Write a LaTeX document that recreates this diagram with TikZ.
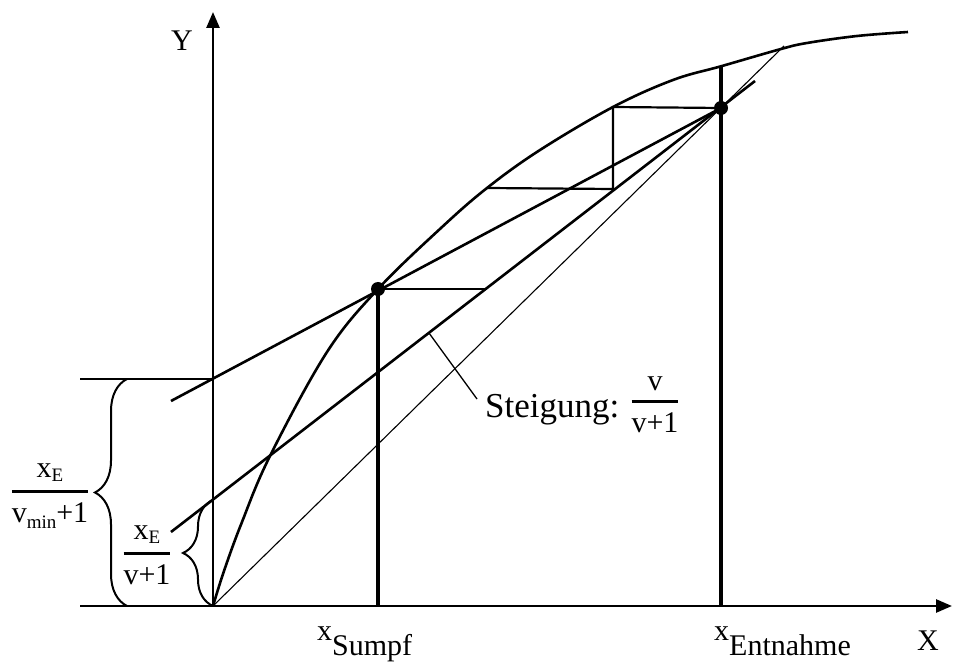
\documentclass[tikz,border=0pt]{standalone}
\usepackage{amsmath}
\usepackage{fontspec}
\setmainfont{Liberation Serif}
\newfontfamily\labfont{Liberation Serif}
\usetikzlibrary{arrows.meta,positioning,calc,decorations.pathreplacing}
\newcommand{\sub}[1]{{\fontsize{19}{21}\selectfont #1}}

\begin{document}
\begin{tikzpicture}[
  x=1pt, y=1pt,
  >={Triangle[length=16pt,width=13pt]},
  font=\labfont\fontsize{30}{36}\selectfont,
  every node/.style={inner sep=0pt},
  big/.style={font=\labfont\fontsize{35}{40}\selectfont},
  axis/.style={->, line width=2.6pt},
  curve/.style={line width=2.6pt},
  bold/.style={line width=3.2pt},
  oper/.style={line width=2.6pt},
  stepline/.style={line width=2.2pt},
  thin/.style={line width=1.1pt},
  bracket/.style={decorate, decoration={brace, amplitude=#1}, line width=2pt},
  dot/.style={circle, fill, minimum size=14pt}
]
\useasboundingbox (0,0) rectangle (954,662);

% axes
\coordinate (O) at (213,56);
\coordinate (Ytop) at (213,650);
\coordinate (Xend) at (952,56);
\draw[axis] (O) -- (Ytop);
\draw[axis] (O) -- (Xend);
\node (ylab) at (182,621) {Y};
\node[anchor=base] (xlab) at (928,12) {X};

% equilibrium curve
\draw[curve] plot[smooth, tension=0.6] coordinates {(213,56) (224,91) (241.6,139) (270,206)
  (327,310) (378,373) (441,434) (487,474) (540,512) (613,555) (673,582) (722,596)
  (781,613) (807,619) (857,626) (908,630)};

% points
\node[dot] (S) at (378,373) {};
\node[dot] (E) at (721,554) {};
\coordinate (Etop) at (721,596);
\coordinate (D) at (784,616);

% diagonal and operating lines
\draw[thin] (O) -- (D);
\coordinate (Mstart) at (171,261);
\draw[oper] (Mstart) -- (E.center);
\coordinate (Vstart) at (171,130);
\coordinate (Vend) at (755,581);
\draw[oper] (Vstart) -- (Vend);

% steps
\coordinate (s1) at (486,373);
\coordinate (c2) at (487,474);
\coordinate (s2) at (613,473);
\coordinate (c3) at (613,555);
\draw[stepline] (S.center) -- (s1);
\draw[stepline] (c2) -- (s2) -- (c3) -- (E.center);

% verticals
\draw[bold] (S.center) -- (S |- O);
\draw[bold] (Etop) -- (Etop |- O);
\node[anchor=base west] (xs) at (317,22) {x\raisebox{-15pt}{Sumpf}};
\node[anchor=base west] (xe) at (714,22) {x\raisebox{-15pt}{Entnahme}};

% intercepts
\coordinate (Lmin) at (80,283);
\coordinate (Lo) at (80,56);
\coordinate (Iv) at (213,162);
\draw[thin] (Lmin) -- (Lmin -| O);
\draw[thin] (Lo) -- (O);
\draw[bracket=32pt] (127,56) -- (127,283);
\draw[bracket=30pt] (O) -- (Iv);
\node[anchor=base] (fmin) at (50,164) {$\genfrac{}{}{3pt}{0}{\text{x\raisebox{-4pt}{\sub{E}}}}{\text{v\raisebox{-6pt}{\sub{min}}+1}}$};
\node[anchor=base] (fv) at (147,102) {$\genfrac{}{}{3pt}{0}{\text{x\raisebox{-4pt}{\sub{E}}}}{\text{v+1}}$};

% slope label
\coordinate (lead) at (429,329);
\node[big, anchor=base west] (steig) at (485,244) {Steigung:};
\node[anchor=base] (sfrac) at (655,254) {$\genfrac{}{}{3pt}{0}{\text{v}}{\text{v+1}}$};
\draw[line width=1.3pt] (lead) -- (477,263);
\end{tikzpicture}
\end{document}
